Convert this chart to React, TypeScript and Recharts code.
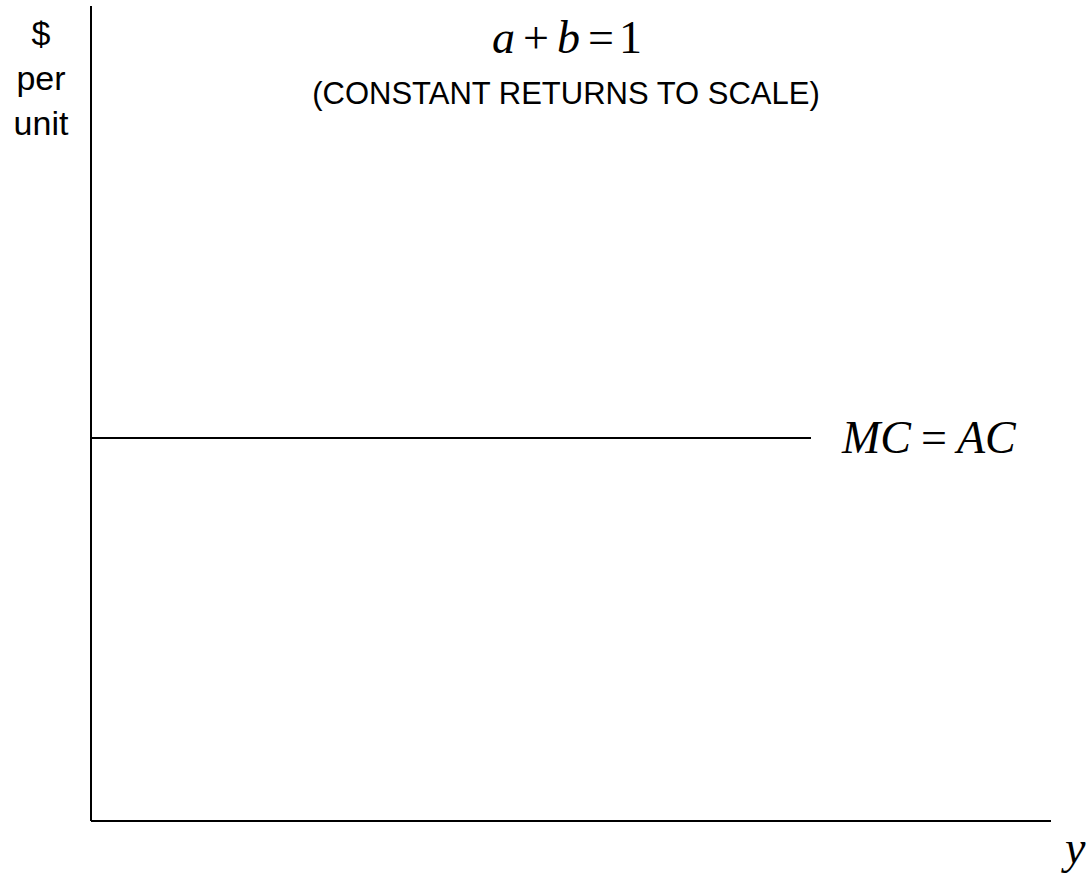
import { LineChart, Line, XAxis, YAxis, ReferenceLine, Customized } from "recharts";

// output range and the flat cost level
const quantities = [0, 75];
const costLevel = [47, 47];

const data = quantities.map((q, i) => ({ q, cost: costLevel[i] }));

const yAxisLines = ["$", "per", "unit"];

const serif = "'Liberation Serif', 'Times New Roman', serif";
const sans = "'Liberation Sans', Arial, sans-serif";

function EndLabel(props: any) {
  const { x, y, index } = props;
  if (index !== data.length - 1) return null;
  return (
    <text x={x + 31} y={y + 15} fontFamily={serif} fontSize={46} fill="#000">
      <tspan fontStyle="italic">MC</tspan>
      <tspan dx={10}>=</tspan>
      <tspan dx={10} fontStyle="italic">AC</tspan>
    </text>
  );
}

function Annotations(props: any) {
  const { offset } = props;
  const left = offset?.left ?? 91;
  const top = offset?.top ?? 6;
  const bottom = top + (offset?.height ?? 815);
  const right = left + (offset?.width ?? 960);
  return (
    <g>
      {yAxisLines.map((t, i) => (
        <text
          key={t}
          x={left - 50}
          y={45 + i * 45}
          textAnchor="middle"
          fontFamily={sans}
          fontSize={34}
          fill="#000"
        >
          {t}
        </text>
      ))}
      <text x={492} y={53} fontFamily={serif} fontSize={46} fill="#000">
        <tspan fontStyle="italic">a</tspan>
        <tspan dx={8}>+</tspan>
        <tspan dx={8} fontStyle="italic">b</tspan>
        <tspan dx={8}>=</tspan>
        <tspan dx={5}>1</tspan>
      </text>
      <text x={566} y={104} textAnchor="middle" fontFamily={sans} fontSize={31} fill="#000">
        (CONSTANT RETURNS TO SCALE)
      </text>
      <text x={right + 14} y={bottom + 42} fontFamily={serif} fontStyle="italic" fontSize={46} fill="#000">
        y
      </text>
    </g>
  );
}

export default function App() {
  return (
    <div style={{ position: "absolute", left: 0, top: 0, background: "#fff" }}>
      <LineChart width={1091} height={877} data={data} margin={{ top: 6, right: 40, left: 91, bottom: 56 }}>
        <XAxis type="number" dataKey="q" domain={[0, 100]} hide />
        <YAxis type="number" domain={[0, 100]} hide />
        {/* axes drawn as reference lines along the plot edges */}
        <ReferenceLine x={0} stroke="#000" strokeWidth={2} />
        <ReferenceLine y={0} stroke="#000" strokeWidth={2} />
        <Line
          dataKey="cost"
          stroke="#000"
          strokeWidth={2}
          dot={false}
          isAnimationActive={false}
          label={<EndLabel />}
        />
        <Customized component={Annotations} />
      </LineChart>
    </div>
  );
}
